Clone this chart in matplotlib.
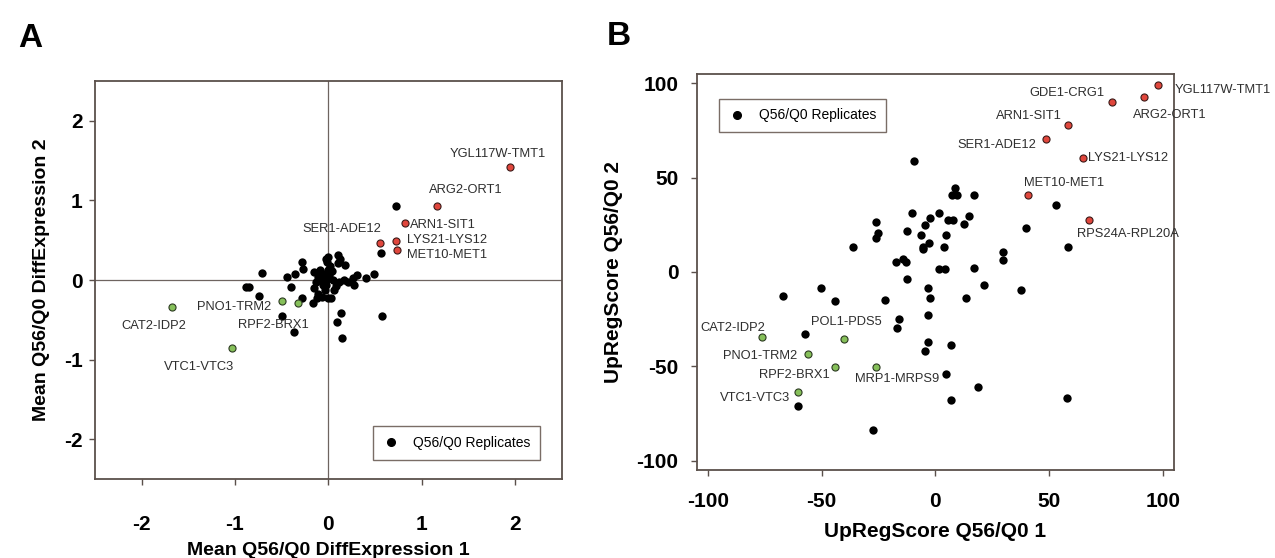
import matplotlib
matplotlib.use("Agg")
import matplotlib.pyplot as plt
from matplotlib.lines import Line2D

plt.rcParams['font.family'] = ['Liberation Sans', 'DejaVu Sans']
plt.rcParams['axes.unicode_minus'] = False

# --- Panel A data: mean DiffExpression, replicate 1 vs 2 ---
a_black_x = [0.73, 0.56, -0.71, -0.88, -0.85, -0.74, -0.50, -0.37,
             -0.28, -0.27, -0.44, -0.36, -0.40, -0.28, -0.16,
             -0.03, 0.00, -0.01, 0.10, 0.12, 0.10, 0.18,
             -0.15, -0.11, -0.08, -0.06, -0.15, -0.11, -0.07, 0.00, 0.03,
             -0.06, 0.01, 0.05, 0.08, -0.04, -0.02, 0.00, 0.04,
             0.17, 0.21, 0.26, 0.31, 0.28, 0.40, 0.49,
             0.14, 0.09, 0.15, 0.58,
             -0.13, -0.09, 0.06, -0.03, 0.11, 0.02, -0.12]
a_black_y = [0.93, 0.34, 0.09, -0.09, -0.09, -0.20, -0.45, -0.65,
             0.23, 0.14, 0.04, 0.07, -0.09, -0.22, -0.29,
             0.26, 0.29, 0.23, 0.31, 0.27, 0.21, 0.19,
             0.10, 0.04, 0.00, -0.06, -0.10, -0.17, -0.21, -0.23, -0.23,
             0.08, 0.06, 0.00, -0.07, -0.13, 0.00, 0.13, 0.11,
             0.00, -0.02, 0.02, 0.06, -0.06, 0.02, 0.08,
             -0.41, -0.53, -0.73, -0.45,
             -0.03, 0.12, -0.12, -0.06, -0.03, 0.17, -0.23]

a_red_names = ['YGL117W-TMT1', 'ARG2-ORT1', 'ARN1-SIT1', 'LYS21-LYS12', 'MET10-MET1', 'SER1-ADE12']
a_red_x = [1.95, 1.16, 0.82, 0.73, 0.74, 0.55]
a_red_y = [1.42, 0.93, 0.71, 0.49, 0.38, 0.47]

a_green_names = ['CAT2-IDP2', 'PNO1-TRM2', 'RPF2-BRX1', 'VTC1-VTC3']
a_green_x = [-1.68, -0.50, -0.32, -1.03]
a_green_y = [-0.34, -0.27, -0.29, -0.86]

# --- Panel B data: UpRegScore, replicate 1 vs 2 ---
b_black_x = [-9.2, 8.8, 7.3, 9.7, 16.8, 52.8, -10.4, 1.5, -2.3, 14.9,
             5.4, 7.6, 12.7, -26.2, -4.4, 39.8, -12.3, -25.3, -26.2, -6.3,
             4.7, -2.9, -36.3, -5.6, -5.3, 3.8, 58.5, 29.9, 29.9, -17.3,
             -14.3, -13.0, 1.5, 4.0, 16.8, -12.3, 21.5, 37.6, -3.2, -50.2,
             -67.2, -44.2, -22.2, -2.3, 13.6, -16.2, -17.1, -3.2, -57.2, -3.2,
             -4.4, 6.7, 4.8, 18.9, 6.7, 57.7, -60.3, -27.4]
b_black_y = [58.6, 44.6, 40.7, 40.7, 40.7, 35.5, 31.4, 31.4, 28.6, 29.7,
             27.5, 27.5, 25.6, 26.5, 24.7, 23.4, 21.5, 20.8, 18.1, 19.7,
             19.5, 15.6, 13.3, 13.3, 12.3, 13.3, 13.3, 10.5, 6.6, 5.5,
             7.1, 5.3, 1.6, 1.6, 2.3, -3.6, -6.7, -9.8, -8.7, -8.7,
             -12.8, -15.6, -14.7, -13.7, -13.7, -24.7, -29.8, -22.9, -32.9, -36.9,
             -41.7, -38.9, -54.2, -61.1, -68.0, -67.0, -70.9, -84.0]

b_red_names = ['YGL117W-TMT1', 'ARG2-ORT1', 'GDE1-CRG1', 'ARN1-SIT1',
               'SER1-ADE12', 'LYS21-LYS12', 'MET10-MET1', 'RPS24A-RPL20A']
b_red_x = [97.9, 91.6, 77.8, 58.5, 48.7, 64.7, 40.8, 67.6]
b_red_y = [98.9, 92.7, 89.9, 77.8, 70.7, 60.7, 40.7, 27.5]

b_green_names = ['CAT2-IDP2', 'POL1-PDS5', 'PNO1-TRM2', 'RPF2-BRX1', 'MRP1-MRPS9', 'VTC1-VTC3']
b_green_x = [-76.4, -40.2, -56.2, -44.2, -26.2, -60.3]
b_green_y = [-34.6, -35.7, -43.7, -50.6, -50.6, -63.8]

# label placement: (dx, dy) in points, horizontal alignment
a_label_pos = {
    'YGL117W-TMT1': (-9, 9, 'center'), 'ARG2-ORT1': (21, 11.5, 'center'),
    'ARN1-SIT1': (4, -1, 'left'), 'LYS21-LYS12': (7.5, 0.7, 'left'),
    'MET10-MET1': (7.2, -4, 'left'), 'SER1-ADE12': (-27, 9.6, 'center'),
    'CAT2-IDP2': (-13, -13.5, 'center'), 'PNO1-TRM2': (-7.4, -3.9, 'right'),
    'RPF2-BRX1': (-18, -16, 'center'), 'VTC1-VTC3': (-24, -13, 'center'),
}
b_label_pos = {
    'YGL117W-TMT1': (12, -3.4, 'left'), 'ARG2-ORT1': (-8, -13, 'left'),
    'GDE1-CRG1': (-5.5, 7, 'right'), 'ARN1-SIT1': (-5, 6.5, 'right'),
    'SER1-ADE12': (-7, -4.5, 'right'), 'LYS21-LYS12': (4, 0, 'left'),
    'MET10-MET1': (25.7, 9, 'center'), 'RPS24A-RPL20A': (-9, -10.3, 'left'),
    'CAT2-IDP2': (-20.4, 7, 'center'), 'POL1-PDS5': (2, 12.7, 'center'),
    'PNO1-TRM2': (-7.6, -1.2, 'right'), 'RPF2-BRX1': (-3.9, -5.3, 'right'),
    'MRP1-MRPS9': (15, -8.6, 'center'), 'VTC1-VTC3': (-5.8, -3.8, 'right'),
}

RED = '#e0463c'
GREEN = '#86c05a'
FRAME = '#5b504b'
TXT = '#2e2e2e'

fig = plt.figure(figsize=(12.75, 5.58), dpi=100)
axA = fig.add_axes([0.0745, 0.1416, 0.366, 0.7132])
axB = fig.add_axes([0.5463, 0.1577, 0.3747, 0.7097])


def style_axes(ax, pad_x, pad_y):
    for s in ax.spines.values():
        s.set_color(FRAME)
        s.set_linewidth(1.3)
    ax.tick_params(direction='out', length=4, width=1, color=FRAME,
                   labelsize=15, colors='black')
    ax.tick_params(axis='x', pad=pad_x)
    ax.tick_params(axis='y', pad=pad_y)
    for lab in ax.get_xticklabels() + ax.get_yticklabels():
        lab.set_fontweight('bold')


def draw(ax, bx, by, rn, rx, ry, gn, gx, gy, label_pos):
    ax.scatter(bx, by, s=36, color='black', zorder=3, linewidths=0)
    ax.scatter(rx, ry, s=26, color=RED, edgecolors='#3a1a18', linewidths=0.8, zorder=4)
    ax.scatter(gx, gy, s=26, color=GREEN, edgecolors='#2c3a22', linewidths=0.8, zorder=4)
    for names, xs, ys in ((rn, rx, ry), (gn, gx, gy)):
        for n, x, y in zip(names, xs, ys):
            dx, dy, ha = label_pos[n]
            ax.annotate(n, (x, y), xytext=(dx, dy), textcoords='offset points',
                        ha=ha, va='center', fontsize=9.3, color=TXT, zorder=5,
                        annotation_clip=False)


# Panel A
draw(axA, a_black_x, a_black_y, a_red_names, a_red_x, a_red_y,
     a_green_names, a_green_x, a_green_y, a_label_pos)
axA.axhline(0, color='#6e6460', lw=0.9, zorder=1)
axA.axvline(0, color='#6e6460', lw=0.9, zorder=1)
axA.set_xlim(-2.5, 2.5)
axA.set_ylim(-2.5, 2.5)
axA.set_xticks([-2, -1, 0, 1, 2])
axA.set_yticks([-2, -1, 0, 1, 2])
style_axes(axA, 22, 5)
axA.set_xlabel('Mean Q56/Q0 DiffExpression 1', fontsize=14, fontweight='bold', labelpad=6)
axA.set_ylabel('Mean Q56/Q0 DiffExpression 2', fontsize=14, fontweight='bold', labelpad=10)

# Panel B
draw(axB, b_black_x, b_black_y, b_red_names, b_red_x, b_red_y,
     b_green_names, b_green_x, b_green_y, b_label_pos)
axB.set_xlim(-105, 105)
axB.set_ylim(-105, 105)
axB.set_xticks([-100, -50, 0, 50, 100])
axB.set_yticks([-100, -50, 0, 50, 100])
style_axes(axB, 12, 9)
axB.set_xlabel('UpRegScore Q56/Q0 1', fontsize=15, fontweight='bold', labelpad=8)
axB.set_ylabel('UpRegScore Q56/Q0 2', fontsize=15, fontweight='bold', labelpad=10)

handle = Line2D([], [], marker='o', color='black', linestyle='none', markersize=5.5)
for ax, loc in ((axA, (0.596, 0.048)), (axB, (0.046, 0.853))):
    leg = ax.legend([handle], ['Q56/Q0 Replicates'], loc='lower left',
                    bbox_to_anchor=loc, borderaxespad=0, fontsize=10,
                    fancybox=False, framealpha=1, edgecolor='#7a6d66',
                    handletextpad=1.0, borderpad=0.7, handlelength=1.2)
    leg.get_frame().set_linewidth(1.0)

fig.text(0.014, 0.915, 'A', fontsize=24, fontweight='bold')
fig.text(0.476, 0.92, 'B', fontsize=24, fontweight='bold')

fig.savefig('out.png', dpi=100)
